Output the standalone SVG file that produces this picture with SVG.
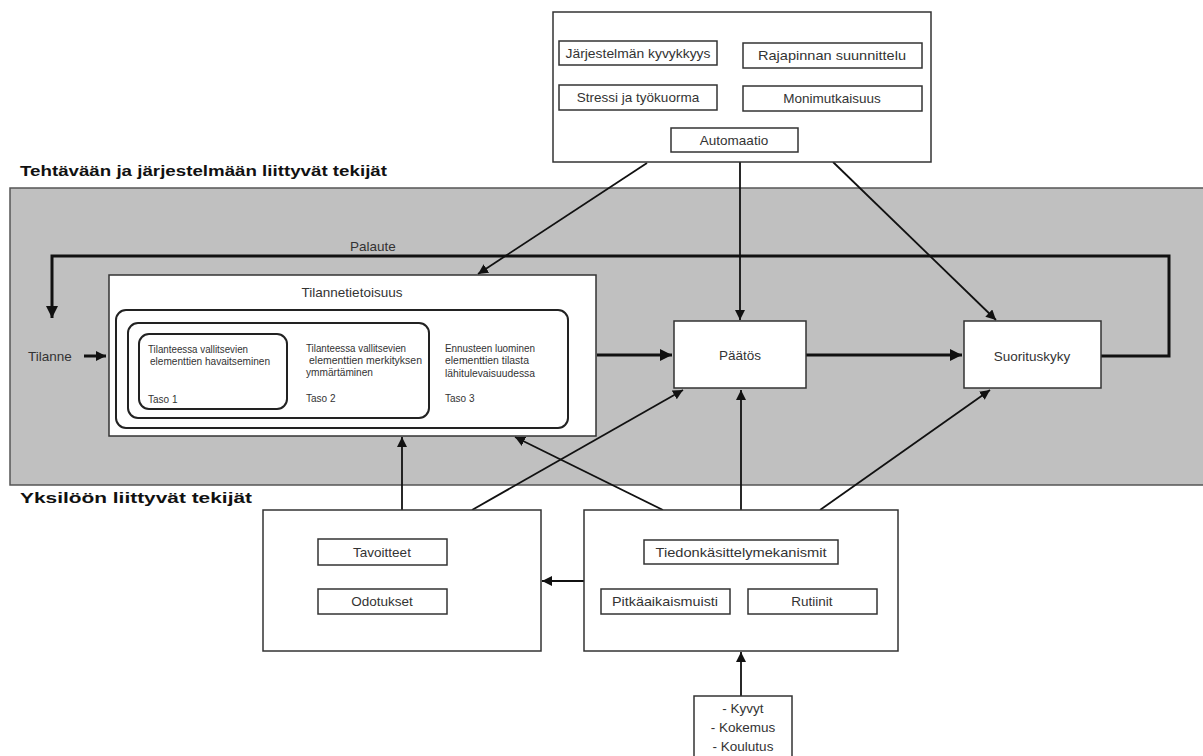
<svg xmlns="http://www.w3.org/2000/svg" width="1203" height="756" viewBox="0 0 1203 756">
<style>
text{font-family:"Liberation Sans",Arial,sans-serif;fill:#333}
.lbl{font-size:13.5px}
.big{font-size:13.5px}
.small{font-size:10px}
.title{font-size:15px;font-weight:bold;fill:#111}
.box{fill:#fff;stroke:#333;stroke-width:1.5}
.rbox{fill:none;stroke:#222;stroke-width:2}
.ln{fill:none;stroke:#111;stroke-width:1.8}
.thick{fill:none;stroke:#111;stroke-width:3}
</style>
<defs>
<marker id="a" markerUnits="userSpaceOnUse" markerWidth="12" markerHeight="10" refX="10" refY="5" orient="auto">
<path d="M0,0 L10,5 L0,10 Z" fill="#111"/>
</marker>
<marker id="b" markerUnits="userSpaceOnUse" markerWidth="14" markerHeight="12" refX="12" refY="6" orient="auto">
<path d="M0,0 L12,6 L0,12 Z" fill="#111"/>
</marker>
</defs>
<g id="band">
<rect x="10" y="188" width="1200" height="297" fill="#c0c0c0" stroke="#555" stroke-width="1.5"/>
<text class="title" x="20" y="176" textLength="367" lengthAdjust="spacingAndGlyphs">Tehtävään ja järjestelmään liittyvät tekijät</text>
<text class="title" x="20" y="503" textLength="232" lengthAdjust="spacingAndGlyphs">Yksilöön liittyvät tekijät</text>
</g>
<g id="connectors">
<path class="thick" d="M1101,356 H1169 V256 H52 V318" marker-end="url(#b)"/>
<path class="thick" d="M84,356 H106" stroke-width="2.5" marker-end="url(#a)"/>
<path class="thick" d="M597,355 H672" marker-end="url(#b)"/>
<path class="thick" d="M806,355 H962" marker-end="url(#b)"/>
<path class="ln" d="M647,163 L478,274" marker-end="url(#a)"/>
<path class="ln" d="M740,162 V320" marker-end="url(#a)"/>
<path class="ln" d="M833,162 L996,320" marker-end="url(#a)"/>
<path class="ln" d="M402,510 V437" marker-end="url(#a)"/>
<path class="ln" d="M472,510 L683,390" marker-end="url(#a)"/>
<path class="ln" d="M663,510 L515,437" marker-end="url(#a)"/>
<path class="ln" d="M741,510 V390" marker-end="url(#a)"/>
<path class="ln" d="M820,510 L990,390" marker-end="url(#a)"/>
<path class="ln" d="M584,581 H542" marker-end="url(#a)"/>
<path class="ln" d="M741,696 V652" marker-end="url(#a)"/>
</g>
<g id="tehtava">
<rect class="box" x="553" y="12" width="378" height="150"/>
<rect class="box" x="559" y="41" width="158" height="24"/>
<text class="lbl" x="638" y="58" text-anchor="middle" textLength="145" lengthAdjust="spacingAndGlyphs">Järjestelmän kyvykkyys</text>
<rect class="box" x="743" y="43" width="179" height="25"/>
<text class="lbl" x="832" y="60" text-anchor="middle" textLength="148" lengthAdjust="spacingAndGlyphs">Rajapinnan suunnittelu</text>
<rect class="box" x="559" y="85" width="158" height="25"/>
<text class="lbl" x="638" y="102" text-anchor="middle">Stressi ja työkuorma</text>
<rect class="box" x="743" y="86" width="179" height="25"/>
<text class="lbl" x="832" y="103" text-anchor="middle">Monimutkaisuus</text>
<rect class="box" x="671" y="128" width="127" height="24"/>
<text class="lbl" x="734" y="145" text-anchor="middle">Automaatio</text>
</g>
<g id="palaute"><text class="lbl" x="350" y="251">Palaute</text></g>
<g id="tilanne"><text class="big" x="28" y="361">Tilanne</text></g>
<g id="tilannetietoisuus">
<rect class="box" x="109" y="275" width="487" height="161" stroke="#111" stroke-width="2"/>
<text class="lbl" x="352" y="297" text-anchor="middle">Tilannetietoisuus</text>
<rect class="rbox" x="116" y="310" width="452" height="118" rx="10"/>
<rect class="rbox" x="128" y="323" width="301" height="95" rx="10"/>
<rect class="rbox" x="139" y="334" width="148" height="75" rx="10"/>
<text class="small" x="148" y="353" textLength="100" lengthAdjust="spacingAndGlyphs">Tilanteessa vallitsevien</text>
<text class="small" x="150" y="365" textLength="120" lengthAdjust="spacingAndGlyphs">elementtien havaitseminen</text>
<text class="small" x="148" y="403">Taso 1</text>
<text class="small" x="306" y="352" textLength="100" lengthAdjust="spacingAndGlyphs">Tilanteessa vallitsevien</text>
<text class="small" x="309" y="364" textLength="113" lengthAdjust="spacingAndGlyphs">elementtien merkityksen</text>
<text class="small" x="306" y="376" textLength="67" lengthAdjust="spacingAndGlyphs">ymmärtäminen</text>
<text class="small" x="306" y="402">Taso 2</text>
<text class="small" x="445" y="352" textLength="90" lengthAdjust="spacingAndGlyphs">Ennusteen luominen</text>
<text class="small" x="445" y="364" textLength="84" lengthAdjust="spacingAndGlyphs">elementtien tilasta</text>
<text class="small" x="445" y="377" textLength="90" lengthAdjust="spacingAndGlyphs">lähitulevaisuudessa</text>
<text class="small" x="445" y="402">Taso 3</text>
</g>
<g id="paatos">
<rect class="box" x="674" y="321" width="132" height="67"/>
<text class="big" x="740" y="360" text-anchor="middle">Päätös</text>
</g>
<g id="suorituskyky">
<rect class="box" x="964" y="321" width="137" height="67"/>
<text class="big" x="1032" y="361" text-anchor="middle">Suorituskyky</text>
</g>
<g id="tavoitteet">
<rect class="box" x="263" y="510" width="278" height="141"/>
<rect class="box" x="318" y="539" width="129" height="26"/>
<text class="lbl" x="382" y="557" text-anchor="middle">Tavoitteet</text>
<rect class="box" x="318" y="589" width="129" height="25"/>
<text class="lbl" x="382" y="606" text-anchor="middle">Odotukset</text>
</g>
<g id="tiedonkasittely">
<rect class="box" x="584" y="510" width="314" height="141"/>
<rect class="box" x="644" y="540" width="194" height="24"/>
<text class="lbl" x="741" y="557" text-anchor="middle" textLength="171" lengthAdjust="spacingAndGlyphs">Tiedonkäsittelymekanismit</text>
<rect class="box" x="601" y="589" width="129" height="25"/>
<text class="lbl" x="665" y="606" text-anchor="middle" textLength="106" lengthAdjust="spacingAndGlyphs">Pitkäaikaismuisti</text>
<rect class="box" x="748" y="589" width="129" height="25"/>
<text class="lbl" x="812" y="606" text-anchor="middle">Rutiinit</text>
</g>
<g id="kyvyt">
<rect class="box" x="694" y="696" width="98" height="62"/>
<text class="lbl" x="743" y="713" text-anchor="middle">- Kyvyt</text>
<text class="lbl" x="743" y="732" text-anchor="middle">- Kokemus</text>
<text class="lbl" x="743" y="751" text-anchor="middle">- Koulutus</text>
</g>
</svg>
